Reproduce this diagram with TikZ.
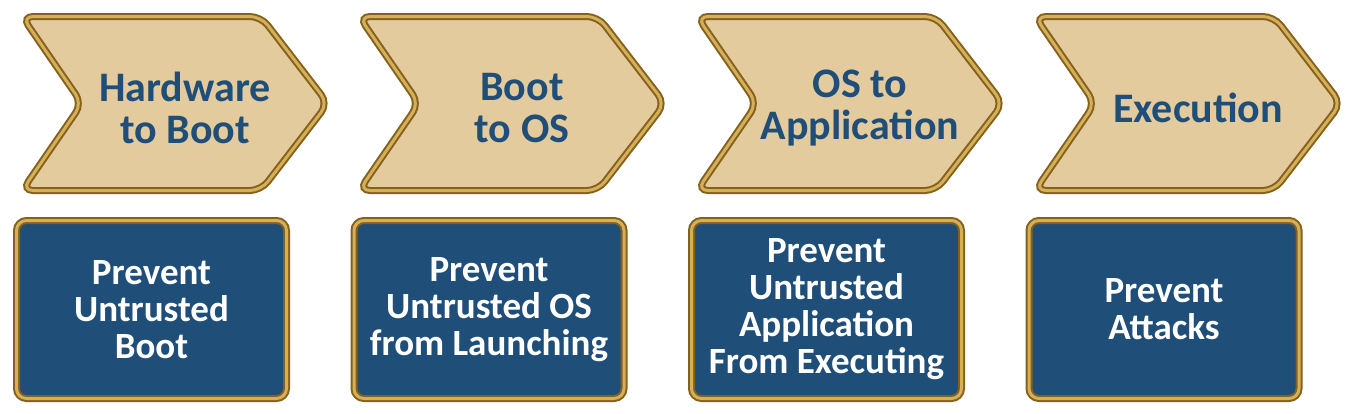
\documentclass[tikz,border=0pt]{standalone}
\usepackage{fontspec}
\setmainfont{Carlito}
\definecolor{tan}{HTML}{E3CB9D}
\definecolor{navy}{HTML}{1F4E79}
\definecolor{golddark}{HTML}{85611A}
\definecolor{goldlight}{HTML}{D4AF5C}
\begin{document}
\begin{tikzpicture}[x=1pt,y=-1pt,
  goldedge/.style={draw=golddark, line width=2pt, double=goldlight, double distance=3pt},
  chev/.style={goldedge, fill=tan, rounded corners=11pt},
  stepbox/.style={goldedge, fill=navy, rounded corners=10pt, minimum width=270pt, minimum height=178pt, inner sep=0pt},
  ctext/.style={text=navy, font=\fontsize{42}{42}\selectfont\bfseries, align=center},
  btext/.style={text=white, font=\fontsize{37}{37}\selectfont\bfseries, align=center}]
\useasboundingbox (0,0) rectangle (1350,413);
\foreach \L/\name/\txt in {18/c1/{Hardware\\to Boot}, 355/c2/{Boot\\to OS}, 693/c3/{OS to\\Application}, 1031/c4/{Execution}}{
  \draw[chev] ({\L+120},16.5) -- ({\L+243},16.5) -- ({\L+310},103.5) -- ({\L+243},190.5)
     -- ({\L+4},190.5) -- ({\L+64},103.5) -- ({\L+4},16.5) -- cycle;
  \node[ctext] (\name) at ({\L+167},108) {\txt};
}
\node[stepbox, btext] (b1) at (151.5,309.5) {Prevent\\Untrusted\\Boot};
\node[stepbox, btext] (b2) at (489,309.5) {Prevent\\Untrusted OS\\from Launching};
\node[stepbox, btext] (b3) at (826.5,309.5) {Prevent\\Untrusted\\Application\\From Executing};
\node[stepbox, btext] (b4) at (1164,309.5) {Prevent\\Attacks};
\end{tikzpicture}
\end{document}
